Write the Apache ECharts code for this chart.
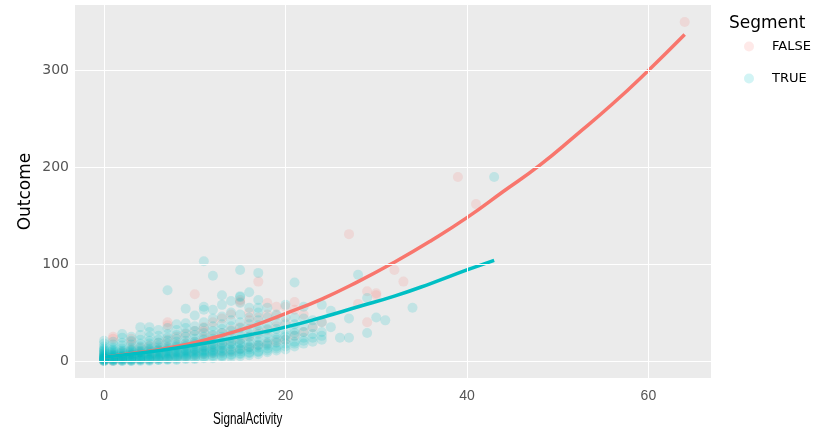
<!DOCTYPE html>
<html><head><meta charset="utf-8">
<script src="https://cdn.jsdelivr.net/npm/echarts@6/dist/echarts.min.js"></script>
<style>html,body{margin:0;padding:0;background:#fff}#c{width:827px;height:430px}</style>
</head><body><div id="c"></div>
<script>
// Tick labels
const xTicks = [0, 20, 40, 60];
const yTicks = [0, 100, 200, 300];
const legendNames = ['FALSE', 'TRUE'];
const xTitle = 'SignalActivity';
const yTitle = 'Outcome';
const legendTitle = 'Segment';

// Scatter points, grouped by SignalActivity value (x) -> Outcome values (y)
const falseX = [0,1,2,3,4,5,6,7,8,9,10,11,12,13,14,15,16,17,18,19,20,21,22,23,24,27,28,29,30,32,33,39,41,64];
const falseY = [
  [0,1,2,3,5,8],
  [0,2,4,7,23,25],
  [1,3,5,9],
  [1,4,7,12,20,23],
  [2,5,9,14],
  [2,6,10,16],
  [3,7,12,19],
  [3,8,14,22,37,40],
  [4,9,16,25],
  [5,11,18,28],
  [6,12,20,31,69],
  [7,14,23,31,35],
  [8,16,26,40],
  [9,18,29,44],
  [10,20,32,48],
  [12,22,35,61,63],
  [14,25,42,50],
  [16,30,45,82],
  [18,32,48,60],
  [20,36,47,56],
  [22,40,56],
  [26,53,61],
  [30,48],
  [35],
  [40],
  [131],
  [59],
  [40,72],
  [68,70],
  [94],
  [82],
  [190],
  [162],
  [350]
];

const trueX = [0,1,2,3,4,5,6,7,8,9,10,11,12,13,14,15,16,17,18,19,20,21,22,23,24,25,26,27,28,29,30,31,34,43];
const trueY = [
  [0,0,0,1,1,1,2,2,2,3,3,3,4,4,5,5,6,6,7,8,9,10,11,12,13,15,18,21],
  [0,0,1,1,1,2,2,3,3,4,4,5,5,6,6,7,8,9,10,11,12,14,17,20],
  [0,0,1,1,2,2,3,3,4,4,5,5,6,7,8,9,10,11,13,16,19,24,28],
  [0,0,1,1,2,2,3,4,4,5,6,6,7,8,9,10,11,12,14,17,21,25],
  [0,1,1,2,2,3,4,4,5,6,6,7,8,9,10,11,13,15,18,22,27,35],
  [0,1,1,2,3,3,4,5,6,7,7,8,9,11,12,13,15,18,21,25,30,35],
  [1,1,2,3,3,4,5,6,7,8,9,10,11,12,14,16,19,22,26,32],
  [1,2,2,3,4,5,6,7,8,9,10,11,12,13,15,18,21,24,28,34,73],
  [1,2,3,4,5,6,7,8,9,10,11,12,14,15,17,20,23,27,32,38],
  [2,3,4,5,6,7,8,9,10,11,12,13,15,16,18,21,25,29,34,39,54],
  [2,3,4,6,7,8,9,10,11,12,13,15,17,18,20,23,27,31,36,47],
  [3,4,5,7,8,9,10,11,12,14,15,16,19,22,25,29,34,40,53,56,103],
  [3,5,6,8,9,10,11,12,14,15,17,18,20,23,27,31,36,44,53,88],
  [4,5,6,8,10,11,13,14,16,17,19,22,25,29,33,38,46,58,68],
  [4,6,7,9,11,12,15,17,18,20,24,27,31,36,42,50,62],
  [5,7,8,10,12,13,16,18,19,22,26,30,34,40,48,60,66,67,94],
  [6,8,9,12,14,15,18,21,25,28,33,38,45,55,71],
  [7,9,10,14,16,17,20,24,28,32,37,42,50,55,63,91],
  [9,11,13,16,18,20,24,28,33,38,45,55],
  [11,13,15,19,22,24,28,33,40,48],
  [12,15,18,22,25,27,32,38,45,58],
  [15,18,20,26,29,32,38,45,81],
  [18,21,24,30,36,44,56],
  [20,24,28,35,42],
  [22,26,30,40,58],
  [35,52],
  [24],
  [24,44],
  [89],
  [29,65],
  [45],
  [42],
  [55],
  [190]
];

// Fitted curves
const falseFitX = [0,4,8,12,16,20,24,28,32,36,40,44,48,52,56,60,64];
const falseFitY = [4,9,15,24,35,49,64,82,102,124,148,175,202,233,265,300,337];
const trueFitX = [0,4,8,12,16,20,24,28,32,36,40,43];
const trueFitY = [4,8.2,13.5,20,27,35,45,56,67,80,94,104];

const RED = '#F8766D', TEAL = '#00BFC4';

function flatten(xs, ys) {
  const out = [];
  xs.forEach((x, i) => ys[i].forEach(y => out.push([x, y])));
  return out;
}
function zip(xs, ys) { return xs.map((x, i) => [x, ys[i]]); }

const gridLines = xTicks.map(v => ({ xAxis: v })).concat(yTicks.map(v => ({ yAxis: v })));

const sans = '"Liberation Sans", Arial, sans-serif';
const wide = '"DejaVu Sans", Verdana, sans-serif';

const chart = echarts.init(document.getElementById('c'), null, { renderer: 'canvas' });
chart.setOption({
  animation: false,
  backgroundColor: '#ffffff',
  grid: { left: 75, top: 5, right: 116, bottom: 52, show: true, backgroundColor: '#EBEBEB', borderWidth: 0,
          containLabel: false, outerBoundsMode: 'none' },
  title: { text: legendTitle, left: 724, top: 10, textStyle: { fontFamily: wide, fontSize: 17, fontWeight: 'normal', color: '#000' } },
  legend: {
    data: legendNames, orient: 'vertical', left: 739, top: 35, icon: 'circle',
    itemWidth: 10, itemHeight: 10, itemGap: 19,
    textStyle: { fontFamily: wide, fontSize: 13, color: '#000', padding: [0, 0, 0, 13] }
  },
  graphic: [{
    type: 'text', left: 213, top: 412, scaleX: 0.73,
    style: { text: xTitle, font: '16px "Liberation Sans", Arial, sans-serif', fill: '#000' }
  }],
  xAxis: {
    type: 'value', min: -3.2, max: 66.9,
    axisLine: { show: false },
    axisTick: { show: true, length: 4, customValues: xTicks, lineStyle: { color: '#999' } },
    axisLabel: { customValues: xTicks, color: '#555', fontSize: 14, margin: 11, fontFamily: sans },
    splitLine: { show: false }
  },
  yAxis: {
    type: 'value', min: -17.5, max: 367.5,
    axisLine: { show: false },
    axisTick: { show: true, length: 4, customValues: yTicks, lineStyle: { color: '#999' } },
    axisLabel: { customValues: yTicks, color: '#555', fontSize: 14, margin: 6, fontFamily: wide },
    splitLine: { show: false },
    name: yTitle, nameLocation: 'middle', nameGap: 41, nameMoveOverlap: false,
    nameTextStyle: { fontFamily: wide, fontSize: 17, color: '#000' }
  },
  series: [
    {
      name: 'grid', type: 'scatter', data: [], z: 1, silent: true,
      markLine: { silent: true, symbol: 'none', label: { show: false },
        lineStyle: { color: '#ffffff', width: 1, type: 'solid' }, data: gridLines, animation: false }
    },
    { name: 'FALSE', type: 'scatter', data: flatten(falseX, falseY), symbolSize: 10, z: 2,
      itemStyle: { color: 'rgba(248,118,109,0.2)' } },
    { name: 'TRUE', type: 'scatter', data: flatten(trueX, trueY), symbolSize: 10, z: 2,
      itemStyle: { color: 'rgba(0,191,196,0.22)' } },
    { name: 'FALSE fit', type: 'line', data: zip(falseFitX, falseFitY), smooth: true, showSymbol: false, z: 3,
      lineStyle: { color: RED, width: 3.5 }, itemStyle: { color: RED } },
    { name: 'TRUE fit', type: 'line', data: zip(trueFitX, trueFitY), smooth: true, showSymbol: false, z: 4,
      lineStyle: { color: TEAL, width: 3.5 }, itemStyle: { color: TEAL } }
  ]
});
</script></body></html>
